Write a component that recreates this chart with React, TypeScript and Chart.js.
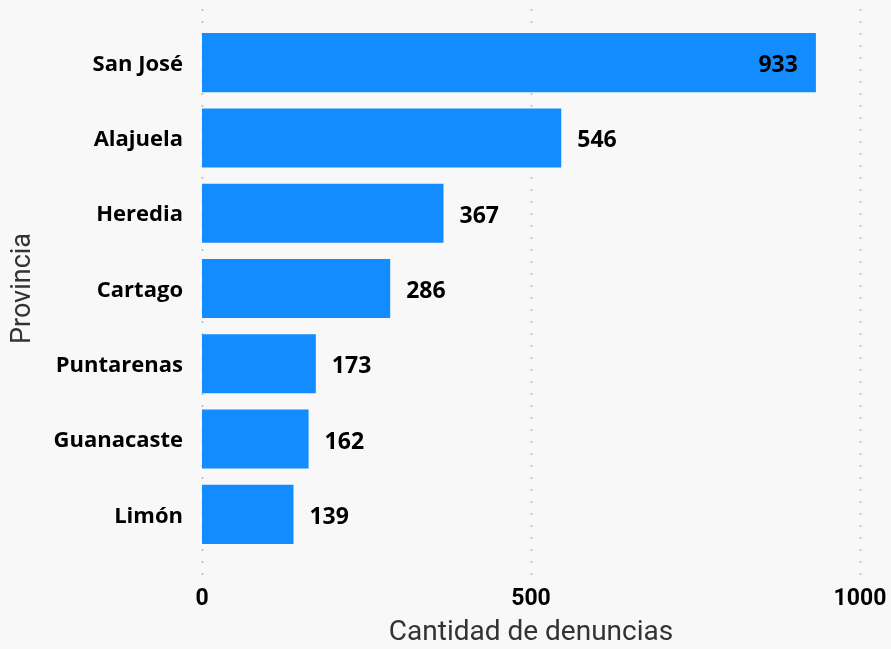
import { useEffect, useRef } from "react";
import { Chart, registerables } from "chart.js";

Chart.register(...registerables);

const provinces = ["San José", "Alajuela", "Heredia", "Cartago", "Puntarenas", "Guanacaste", "Limón"];
const complaints = [933, 546, 367, 286, 173, 162, 139];
const xTickValues = [0, 500, 1000];
const xTitle = "Cantidad de denuncias";
const yTitle = "Provincia";

const BG = "#f8f8f8";
const BAR = "#138cff";
const LABEL_FONT = "'Open Sans', 'Noto Sans', sans-serif";
const NUM_FONT = "Roboto, 'Open Sans', sans-serif";

const background = {
  id: "bg",
  beforeDraw(chart: any) {
    const { ctx, width, height } = chart;
    ctx.save();
    ctx.fillStyle = BG;
    ctx.fillRect(0, 0, width, height);
    ctx.restore();
  },
};

const dottedGrid = {
  id: "dottedGrid",
  beforeDatasetsDraw(chart: any) {
    const { ctx, chartArea, scales } = chart;
    const xs = scales.x;
    ctx.save();
    ctx.strokeStyle = "#c8c8c8";
    ctx.lineWidth = 2;
    ctx.setLineDash([2, 10]);
    for (const v of xTickValues) {
      const px = Math.round(xs.getPixelForValue(v)) + 0.5;
      ctx.beginPath();
      ctx.moveTo(px, chartArea.top - 16);
      ctx.lineTo(px, chartArea.bottom + 24);
      ctx.stroke();
    }
    ctx.restore();
  },
};

const valueLabels = {
  id: "valueLabels",
  afterDatasetsDraw(chart: any) {
    const { ctx, chartArea } = chart;
    const meta = chart.getDatasetMeta(0);
    const data = chart.data.datasets[0].data as number[];
    ctx.save();
    ctx.font = `bold 23px ${LABEL_FONT}`;
    ctx.fillStyle = "#000";
    ctx.textBaseline = "middle";
    meta.data.forEach((el: any, i: number) => {
      const text = String(data[i]);
      const w = ctx.measureText(text).width;
      const y = el.y + 3;
      if (el.x + 16 + w + 40 > chartArea.right) {
        ctx.textAlign = "right";
        ctx.fillText(text, el.x - 18, y);
      } else {
        ctx.textAlign = "left";
        ctx.fillText(text, el.x + 16, y);
      }
    });
    ctx.restore();
  },
};

export default function App() {
  const ref = useRef<HTMLCanvasElement | null>(null);

  useEffect(() => {
    document.body.style.margin = "0";
    document.body.style.background = BG;
    const canvas = ref.current;
    if (!canvas) return;
    const chart = new Chart(canvas, {
      type: "bar",
      data: {
        labels: provinces,
        datasets: [
          {
            data: complaints,
            backgroundColor: BAR,
            borderWidth: 0,
            categoryPercentage: 1,
            barPercentage: 0.785,
          },
        ],
      },
      options: {
        indexAxis: "y",
        animation: false,
        responsive: false,
        devicePixelRatio: 1,
        layout: { padding: { top: 25, right: 31, left: 0, bottom: 0 } },
        plugins: {
          legend: { display: false },
          tooltip: { enabled: false },
        },
        scales: {
          x: {
            min: 0,
            max: 1000,
            afterFit: (scale: any) => {
              scale.height = 97;
              scale.paddingLeft = 0;
              scale.paddingRight = 0;
            },
            afterBuildTicks: (scale: any) => {
              scale.ticks = xTickValues.map((v) => ({ value: v }));
            },
            grid: { display: false, drawTicks: false },
            border: { display: false },
            ticks: {
              padding: 33,
              color: "#000",
              callback: (v: any) => String(v),
              font: { family: NUM_FONT, size: 23, weight: "bold" },
            },
            title: {
              display: true,
              text: xTitle,
              color: "#333",
              font: { family: NUM_FONT, size: 28, weight: "normal" },
              padding: { top: 0, bottom: -1 },
            },
          },
          y: {
            afterFit: (scale: any) => {
              scale.width = 202;
              scale.paddingTop = 0;
              scale.paddingBottom = 0;
            },
            grid: { display: false, drawTicks: false },
            border: { display: false },
            ticks: {
              padding: 19,
              labelOffset: 2,
              color: "#000",
              font: { family: LABEL_FONT, size: 22, weight: "bold" },
            },
            title: {
              display: true,
              text: yTitle,
              color: "#333",
              font: { family: NUM_FONT, size: 27, weight: "normal" },
              padding: { top: 7, bottom: 0 },
            },
          },
        },
      },
      plugins: [background, dottedGrid, valueLabels],
    });
    return () => chart.destroy();
  }, []);

  return (
    <div style={{ width: 891, height: 649, background: BG }}>
      <canvas ref={ref} width={891} height={649} style={{ display: "block" }} />
    </div>
  );
}
